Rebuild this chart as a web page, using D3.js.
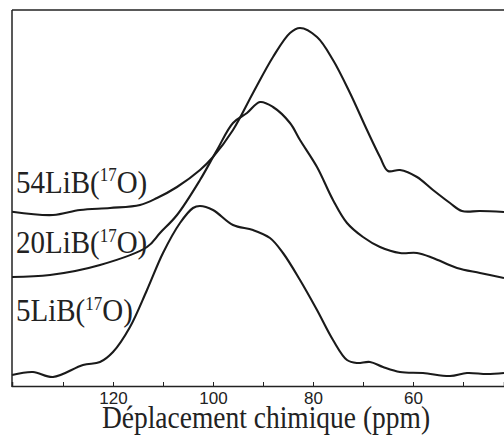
<!DOCTYPE html>
<html>
<head>
<meta charset="utf-8">
<script src="https://cdn.jsdelivr.net/npm/d3@7"></script>
<style>
  html, body { margin: 0; padding: 0; background: #fff; }
  svg { display: block; }
</style>
</head>
<body>
<svg id="chart" width="504" height="435"></svg>
<script>
// Chemical shift (ppm) and intensity (a.u.) per spectrum
const ppm54 = [140.2, 132, 126.6, 120.6, 114.6, 111.2, 107.2, 102.6, 100, 96, 92, 88, 84.6, 82.6, 79.2, 76, 72.6, 69.2, 66.6, 65, 62.6, 59.2, 56, 52.6, 50.2, 46.6, 41.8];
const int54 = [-0.007, -0.04, 0.01, 0.03, 0.06, 0.13, 0.24, 0.41, 0.54, 0.81, 1.18, 1.54, 1.78, 1.83, 1.74, 1.51, 1.18, 0.81, 0.54, 0.40, 0.41, 0.34, 0.21, 0.08, 0.0, 0.0, -0.01];

const ppm20 = [140.2, 132.6, 122.6, 113.2, 110.6, 107.2, 102.6, 99.2, 96, 93.2, 90.6, 88, 84.6, 82.6, 79.2, 76, 73.2, 70, 66.6, 62.6, 59.2, 56, 51.2, 46.6, 41.8];
const int20 = [0, 0.02, 0.12, 0.30, 0.44, 0.62, 0.97, 1.27, 1.54, 1.64, 1.75, 1.70, 1.54, 1.37, 1.10, 0.77, 0.54, 0.40, 0.30, 0.24, 0.24, 0.19, 0.09, 0.04, -0.01];

const ppm5 = [140.2, 136, 132, 126, 122.6, 120, 116.6, 113.2, 110, 106.6, 104, 102.6, 100, 96, 92, 88.6, 86, 82.6, 79.2, 76, 73.2, 71.2, 68.6, 66, 62.6, 58, 52.6, 49.2, 45.2, 41.8];
const int5 = [0, 0.03, -0.02, 0.10, 0.13, 0.23, 0.48, 0.85, 1.22, 1.52, 1.67, 1.69, 1.65, 1.50, 1.45, 1.37, 1.22, 0.95, 0.65, 0.35, 0.15, 0.12, 0.13, 0.08, 0.03, 0.02, -0.01, 0.02, 0.01, 0.02];

const seriesNames = ["54LiB", "20LiB", "5LiB"];
const seriesOffsets = [1.75, 1.09, 0.11];
const majorTicks = [120, 100, 80, 60];
const minorTicks = [130, 110, 90, 70, 50];
const xTitle = "Déplacement chimique (ppm)";

(function () {
const svg = d3.select("#chart");
const mLeft = 12, mRight = 504, mTop = 10, mBottom = 386;
const serif = "'Liberation Serif', 'Times New Roman', serif";
const stretch = 1.12;

const x = d3.scaleLinear().domain([140.2, 41.8]).range([mLeft, mRight]);
const y = d3.scaleLinear().domain([0, 3.76]).range([mBottom, mTop]);

const series = [
  { name: seriesNames[0], ppm: ppm54, val: int54, off: seriesOffsets[0] },
  { name: seriesNames[1], ppm: ppm20, val: int20, off: seriesOffsets[1] },
  { name: seriesNames[2], ppm: ppm5,  val: int5,  off: seriesOffsets[2] }
];

const line = d3.line()
  .x(d => x(d[0]))
  .y(d => y(d[1]))
  .curve(d3.curveCatmullRom.alpha(0.5));

series.forEach(s => {
  const pts = s.ppm.map((p, i) => [p, s.val[i] + s.off]);
  svg.append("path")
    .attr("d", line(pts))
    .attr("fill", "none")
    .attr("stroke", "#1a1a1a")
    .attr("stroke-width", 2.1);
});

const axisColor = "#222";
svg.append("line").attr("x1", mLeft).attr("x2", mLeft).attr("y1", mTop).attr("y2", mBottom + 1)
  .attr("stroke", axisColor).attr("stroke-width", 1.5);
svg.append("line").attr("x1", mLeft).attr("x2", mRight).attr("y1", mTop).attr("y2", mTop)
  .attr("stroke", axisColor).attr("stroke-width", 1.5);

const xAxis = d3.axisBottom(x).tickValues(majorTicks).tickSize(-4).tickPadding(6).tickFormat(d3.format("d"));
const gx = svg.append("g").attr("transform", `translate(0,${mBottom})`).call(xAxis);
gx.select(".domain").attr("stroke", axisColor).attr("stroke-width", 1.5);
gx.selectAll(".tick line").attr("stroke", axisColor).attr("stroke-width", 1);
gx.selectAll(".tick text")
  .attr("font-family", "'Liberation Sans', Arial, sans-serif")
  .attr("font-size", 17)
  .attr("fill", "#222");

const gMinor = svg.append("g").attr("transform", `translate(0,${mBottom})`)
  .call(d3.axisBottom(x).tickValues(minorTicks).tickSize(-4).tickFormat(""));
gMinor.select(".domain").remove();
gMinor.selectAll(".tick line").attr("stroke", axisColor).attr("stroke-width", 1);

svg.append("text")
  .attr("transform", `translate(266,428) scale(1,${stretch})`)
  .attr("text-anchor", "middle")
  .attr("font-family", serif)
  .attr("font-size", 27.5)
  .attr("fill", "#222")
  .text(xTitle);

const labelY = [192.5, 253, 321];
series.forEach((s, i) => {
  const t = svg.append("text")
    .attr("transform", `translate(16,${labelY[i]}) scale(1,${stretch})`)
    .attr("font-family", serif)
    .attr("font-size", 29)
    .attr("fill", "#222");
  t.append("tspan").text(s.name + "(");
  t.append("tspan").attr("font-size", 17).attr("dy", -10).text("17");
  t.append("tspan").attr("dy", 10).text("O)");
});
})();
</script>
</body>
</html>
